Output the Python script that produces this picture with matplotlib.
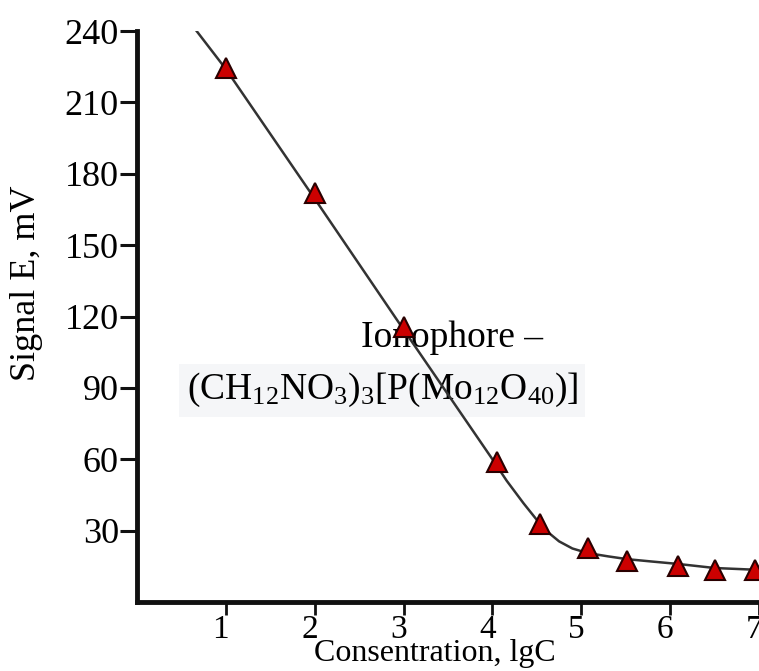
import matplotlib
matplotlib.use("Agg")
from matplotlib import pyplot as plt
from matplotlib import transforms

# Measured points (lgC, signal in mV)
conc = [1.0, 2.0, 3.0, 4.05, 4.53, 5.07, 5.52, 6.09, 6.51, 6.95]
signal = [224.5, 172.0, 115.5, 59.0, 32.8, 22.7, 17.3, 15.1, 13.5, 13.5]

# Fitted curve
curve_x = [0.65, 1.0, 2.0, 3.0, 4.0, 4.16, 4.35, 4.5, 4.62, 4.75, 4.9, 5.07, 5.3, 5.52, 5.8, 6.09, 6.5, 7.0]
curve_y = [241.0, 224.0, 169.5, 114.5, 60.0, 51.0, 41.5, 34.5, 29.5, 25.5, 22.5, 20.6, 19.2, 18.0, 17.0, 16.0, 14.3, 13.5]

y_ticks = [30, 60, 90, 120, 150, 180, 210, 240]
x_ticks = [1, 2, 3, 4, 5, 6, 7]

plt.rcParams["font.family"] = ["Liberation Serif", "DejaVu Serif"]
plt.rcParams["mathtext.fontset"] = "custom"
plt.rcParams["mathtext.rm"] = "Liberation Serif"

fig = plt.figure(figsize=(7.59, 6.71), dpi=100)
ax = fig.add_axes([0.1805, 0.1028, 0.8195, 0.851])

ax.plot(curve_x, curve_y, color="#333333", linewidth=1.8, zorder=2)
ax.plot(conc, signal, linestyle="none", marker="^", markersize=14,
        markerfacecolor="#cc0000", markeredgecolor="#2a0000", markeredgewidth=1.5, zorder=3)

ax.set_xlim(0, 7)
ax.set_ylim(0, 240)
ax.set_xticks(x_ticks)
ax.set_yticks(y_ticks)
ax.tick_params(axis="y", length=12, width=2.2, pad=1, labelsize=26, color="#111111")
ax.tick_params(axis="x", length=9, width=2, pad=0, labelsize=24, color="#111111")

# x tick labels sit a little left of their ticks in the original
shift = transforms.ScaledTranslation(-0.05, 0, fig.dpi_scale_trans)
for lbl in ax.get_xticklabels():
    lbl.set_transform(lbl.get_transform() + shift)

for side in ["top", "right"]:
    ax.spines[side].set_visible(False)
for side in ["left", "bottom"]:
    ax.spines[side].set_linewidth(3.5)
    ax.spines[side].set_color("#111111")

ax.set_ylabel("Signal E, mV", fontsize=26, va="center")
ax.yaxis.set_label_coords(-0.177, 0.559)
ax.set_xlabel("Consentration, lgC", fontsize=23, va="center")
ax.xaxis.set_label_coords(0.479, -0.091)

ax.text(3.54, 111, "Ionophore –", fontsize=27, ha="center", va="center", zorder=1)
ax.text(2.76, 89, r"$\mathrm{(CH_{12}NO_3)_3[P(Mo_{12}O_{40})]}$", fontsize=27,
        ha="center", va="center", zorder=1,
        bbox=dict(boxstyle="square,pad=0.2", facecolor="#f5f6f8", edgecolor="none"))

plt.savefig("out.png", dpi=100)
